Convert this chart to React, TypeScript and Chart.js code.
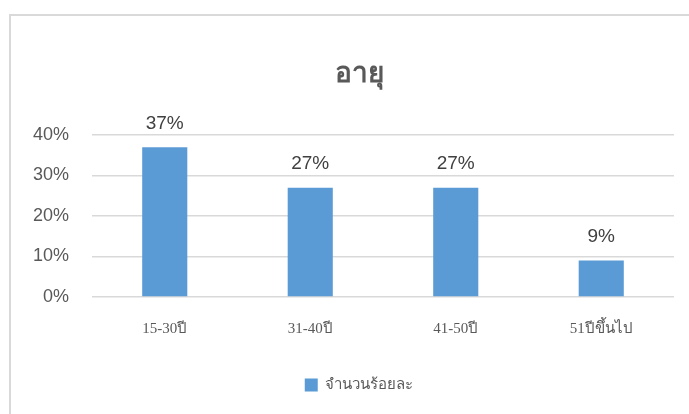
import React, { useEffect, useRef } from "react";
import { Chart, registerables } from "chart.js";

Chart.register(...registerables);

const TITLE = "อายุ";
const categories = ["15-30ปี", "31-40ปี", "41-50ปี", "51ปีขึ้นไป"];
const seriesName = "จำนวนร้อยละ";
const values = [37, 27, 27, 9];
const yTicks = [0, 10, 20, 30, 40];

const BAR_COLOR = "#5b9bd5";

const dataLabelPlugin = {
  id: "dataLabels",
  afterDatasetsDraw(chart: any) {
    const ctx = chart.ctx;
    const meta = chart.getDatasetMeta(0);
    ctx.save();
    ctx.font = "19px 'Liberation Sans', 'DejaVu Sans', sans-serif";
    ctx.fillStyle = "#404040";
    ctx.textAlign = "center";
    ctx.textBaseline = "bottom";
    meta.data.forEach((bar: any, i: number) => {
      ctx.fillText(values[i] + "%", bar.x, bar.y - 14);
    });
    ctx.restore();
  },
};

export default function App() {
  const ref = useRef<HTMLCanvasElement | null>(null);
  useEffect(() => {
    if (!ref.current) return;
    const chart = new Chart(ref.current, {
      type: "bar",
      data: {
        labels: categories,
        datasets: [
          {
            label: seriesName,
            data: values,
            backgroundColor: BAR_COLOR,
            borderWidth: 0,
            barPercentage: 0.31,
            categoryPercentage: 1,
          },
        ],
      },
      options: {
        animation: false,
        responsive: false,
        maintainAspectRatio: false,
        layout: { padding: { left: 22, right: 22, top: 0, bottom: 11.5 } },
        plugins: {
          title: {
            display: true,
            text: TITLE,
            color: "#595959",
            font: { size: 28, weight: "bold", family: "'Noto Sans', 'DejaVu Sans', sans-serif" },
            padding: { top: 41, bottom: 44.4 },
          },
          legend: {
            display: true,
            position: "bottom",
            labels: {
              boxWidth: 13,
              boxHeight: 13,
              color: "#595959",
              padding: 10,
              font: { size: 15, family: "'Liberation Serif', serif" },
            },
          },
          tooltip: { enabled: false },
        },
        scales: {
          x: {
            grid: { display: false, drawTicks: false },
            border: { display: false },
            ticks: {
              color: "#595959",
              padding: 23,
              font: { size: 15, family: "'Liberation Serif', serif" },
            },
            afterFit(scale: any) {
              scale.height = 70.5;
            },
          },
          y: {
            min: 0,
            max: 40,
            afterBuildTicks(scale: any) {
              scale.ticks = yTicks.map((v) => ({ value: v }));
            },
            grid: { color: "#d9d9d9", lineWidth: 1.5, drawTicks: false },
            border: { display: false },
            ticks: {
              color: "#595959",
              padding: 23,
              font: { size: 18, family: "'Liberation Sans', sans-serif" },
              callback: (v: any) => v + "%",
            },
            afterFit(scale: any) {
              scale.width = 59;
            },
          },
          yRight: {
            type: "linear",
            position: "right",
            min: 0,
            max: 40,
            grid: { display: false, drawTicks: false },
            border: { display: false },
            ticks: { display: false },
            afterFit(scale: any) {
              scale.width = 11;
            },
          },
        },
      },
      plugins: [dataLabelPlugin],
    });
    return () => chart.destroy();
  }, []);

  return (
    <div style={{ position: "fixed", left: 0, top: 0, width: 689, height: 414, overflow: "hidden", background: "#fff" }}>
      <div
        style={{
          position: "absolute",
          left: 9,
          top: 14,
          width: 720,
          height: 420,
          borderLeft: "2px solid #d9d9d9",
          borderTop: "2px solid #d9d9d9",
        }}
      >
        <canvas ref={ref} width={696} height={398} style={{ display: "block", width: 696, height: 398 }} />
      </div>
    </div>
  );
}
